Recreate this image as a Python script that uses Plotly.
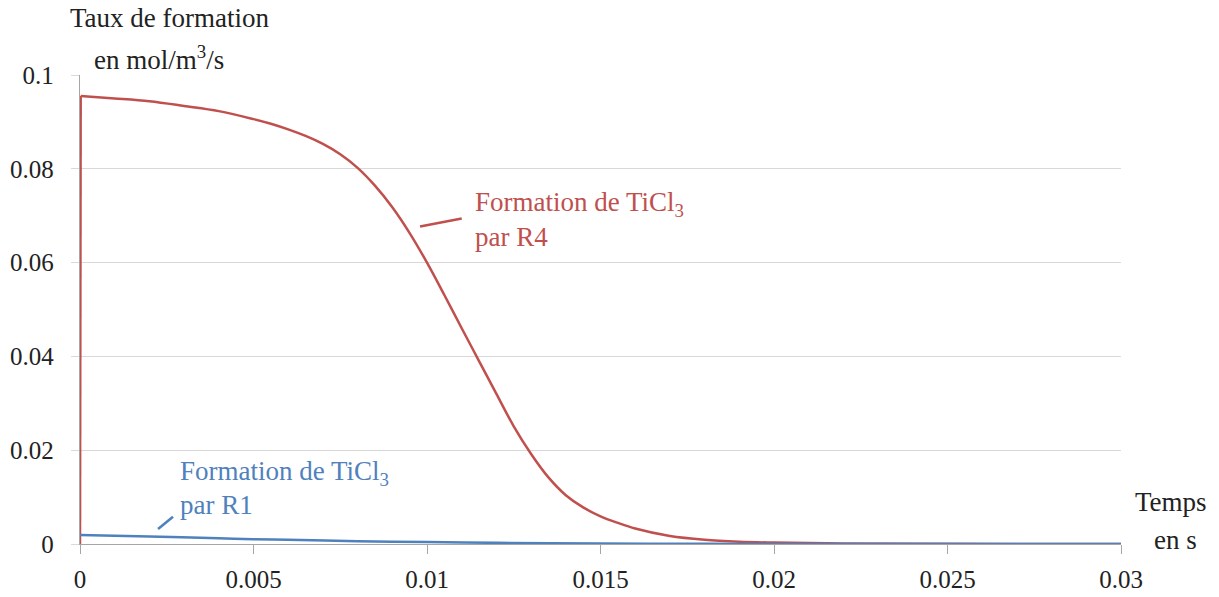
import plotly.graph_objects as go

# Data
temps_r4 = [0, 0.00002, 0.001, 0.002, 0.003, 0.004, 0.005, 0.0055, 0.006, 0.0065,
            0.007, 0.0075, 0.008, 0.0085, 0.009, 0.0095, 0.010, 0.0105, 0.011,
            0.0115, 0.012, 0.0125, 0.013, 0.0135, 0.014, 0.0145, 0.015, 0.0155,
            0.016, 0.017, 0.018, 0.019, 0.020, 0.022, 0.025, 0.03]
taux_r4 = [0, 0.0955, 0.0950, 0.0944, 0.0934, 0.0923, 0.0906, 0.0896, 0.0884, 0.0870,
           0.0853, 0.0831, 0.0802, 0.0764, 0.0718, 0.0663, 0.0600, 0.0531, 0.0460,
           0.0390, 0.0320, 0.0251, 0.0192, 0.0142, 0.0104, 0.0078, 0.0059, 0.0045,
           0.0033, 0.0017, 0.0009, 0.0005, 0.0003, 0.0001, 0.00003, 0.0]

temps_r1 = [0, 0.002, 0.004, 0.005, 0.006, 0.008, 0.010, 0.012, 0.015, 0.018, 0.02, 0.025, 0.03]
taux_r1 = [0.0019, 0.0016, 0.0012, 0.0010, 0.0009, 0.0006, 0.0004, 0.00025, 0.0001, 0.00004, 0.00002, 0.0, 0.0]

x_ticks = [0, 0.005, 0.01, 0.015, 0.02, 0.025, 0.03]
y_ticks = [0, 0.02, 0.04, 0.06, 0.08, 0.1]

RED = "#C0504D"
BLUE = "#4F81BD"
FONT = "Liberation Serif"
TXT = "#222222"
GRID = "#D9D9D9"
AXIS = "#A6A6A6"
W, H = 1219, 597
L, R, T, B = 80, 98, 75, 53
PW, PH = W - L - R, H - T - B


def px(x):
    return (x - L) / PW


def py(y):
    return (H - B - y) / PH


fig = go.Figure()
# vertical jump at t = 0
fig.add_trace(go.Scatter(x=temps_r4[:2], y=taux_r4[:2], mode="lines",
                         line=dict(color=RED, width=2.5), cliponaxis=False,
                         showlegend=False, hoverinfo="skip"))
fig.add_trace(go.Scatter(x=temps_r4[1:], y=taux_r4[1:], mode="lines",
                         line=dict(color=RED, width=2.5, shape="spline", smoothing=1.0),
                         cliponaxis=False, showlegend=False, hoverinfo="skip"))
fig.add_trace(go.Scatter(x=temps_r1, y=taux_r1, mode="lines",
                         line=dict(color=BLUE, width=2.5, shape="spline", smoothing=0.8),
                         cliponaxis=False, showlegend=False, hoverinfo="skip"))

shapes = [
    dict(type="line", xref="x", yref="y", x0=0.0098, y0=0.0677, x1=0.0110, y1=0.0694,
         line=dict(color=RED, width=2.5)),
    dict(type="line", xref="x", yref="y", x0=0.00225, y0=0.0032, x1=0.00268, y1=0.0058,
         line=dict(color=BLUE, width=2.5)),
]


def label(text, xl, ym, color=TXT, size=27):
    return dict(x=px(xl), y=py(ym), xref="paper", yref="paper", xanchor="left",
                yanchor="middle", showarrow=False, text=text,
                font=dict(family=FONT, size=size, color=color))


annotations = [
    label("Formation de TiCl<sub>3</sub>", 473, 204, RED),
    label("par R4", 473, 237, RED),
    label("Formation de TiCl<sub>3</sub>", 178, 473, BLUE),
    label("par R1", 178, 505, BLUE),
    label("Taux de formation", 68, 18),
    label("en mol/m<sup>3</sup>/s", 92, 58),
    label("Temps", 1133, 502),
    label("en s", 1152, 540),
]

fig.update_layout(
    width=W, height=H,
    margin=dict(l=L, r=R, t=T, b=B),
    paper_bgcolor="white", plot_bgcolor="white",
    annotations=annotations, shapes=shapes,
    xaxis=dict(range=[0, 0.03], tickvals=x_ticks, showgrid=False,
               showline=True, linecolor=AXIS, linewidth=1.3,
               ticks="outside", ticklen=9, tickcolor=AXIS, tickwidth=1.3,
               tickfont=dict(family=FONT, size=25, color=TXT),
               ticklabelstandoff=4,
               zeroline=False, layer="below traces", automargin=False),
    yaxis=dict(range=[0, 0.1], tickvals=y_ticks, showgrid=True,
               gridcolor=GRID, gridwidth=1.3,
               showline=True, linecolor=AXIS, linewidth=1.3,
               ticks="outside", ticklen=8, tickcolor=GRID, tickwidth=1.3,
               tickfont=dict(family=FONT, size=25, color=TXT),
               ticklabelstandoff=12,
               zeroline=False, layer="below traces", automargin=False),
)

fig.write_html("out.html", config={"displayModeBar": False},
               post_script="document.body.style.margin='0px';")
